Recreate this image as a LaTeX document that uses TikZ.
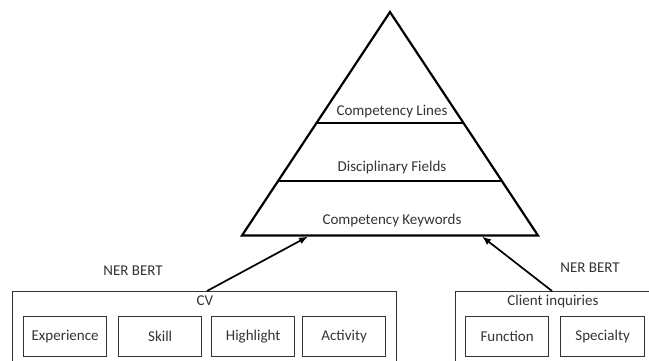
\documentclass[tikz,border=0pt]{standalone}
\usepackage{fontspec}
\setmainfont{Carlito}
\usetikzlibrary{arrows.meta}
\begin{document}
\begin{tikzpicture}[x=1pt,y=-1pt,
  lbl/.style={font=\fontsize{15}{17}\selectfont, text=black!80, inner sep=0pt},
  item/.style={draw=black!80, line width=1.3pt, minimum width=83pt, minimum height=40pt, anchor=north west, inner sep=0pt, font=\fontsize{15}{17}\selectfont, text=black!80},
  frame/.style={draw=black!80, line width=1.3pt},
  tier/.style={draw=black, line width=2.2pt},
  conn/.style={draw=black, line width=1.7pt, -{Latex[length=9pt,width=7pt]}}]
\useasboundingbox (0,0) rectangle (649,360);
\fill[white] (0,0) rectangle (649,360);
\begin{scope}
\clip (0,0) rectangle (649,360);
% pyramid
\coordinate (apex) at (390,12);
\coordinate (bl) at (242,235.5);
\coordinate (br) at (538,235.5);
\draw[tier, line join=miter] (apex) -- (br) -- (bl) -- cycle;
\draw[tier] (317,123) -- (463,123);
\draw[tier] (279,181) -- (501,181);
\node[lbl] (t1) at (392,112) {Competency Lines};
\node[lbl] (t2) at (392,167) {Disciplinary Fields};
\node[lbl] (t3) at (392,220) {Competency Keywords};
% CV frame
\node[frame, minimum width=384pt, minimum height=80pt, anchor=north west, inner sep=0pt] (cv) at (12,291) {};
\node[lbl] (cvl) at (205,301) {CV};
\node[item] (exp) at (23,316) {Experience};
\node[item] (skill) at (118,316) {Skill};
\node[item] (high) at (211,316) {Highlight};
\node[item] (act) at (302,316) {Activity};
% client frame
\node[frame, minimum width=220pt, minimum height=80pt, anchor=north west, inner sep=0pt] (cl) at (455,291) {};
\node[lbl] (cll) at (553,301) {Client inquiries};
\node[item] (func) at (465,316) {Function};
\node[item, minimum width=84pt] (spec) at (560,316) {Specialty};
% labels
\node[lbl] (ner1) at (133,271) {NER BERT};
\node[lbl] (ner2) at (590,268) {NER BERT};
% connectors
\coordinate (a1) at (308,236.5);
\coordinate (a2) at (482,236.5);
\draw[conn] (cv.north -| 207,0) -- (a1);
\draw[conn] (cl.north -| 552,0) -- (a2);
\end{scope}
\end{tikzpicture}
\end{document}
